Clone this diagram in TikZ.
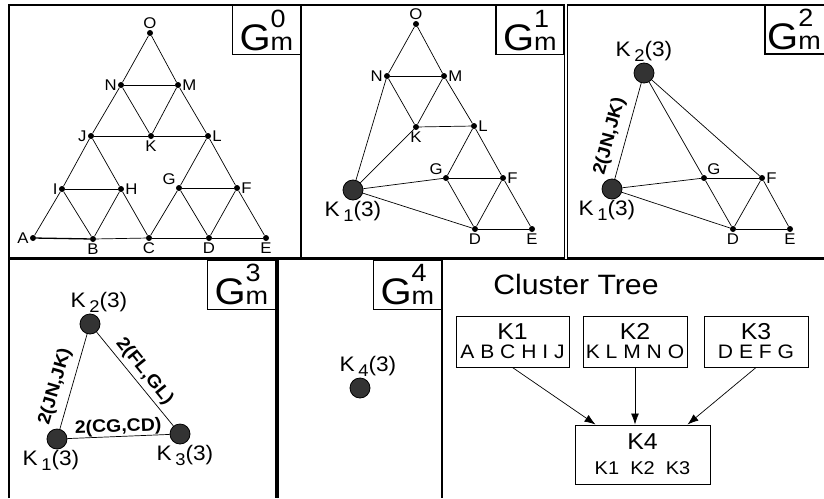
\documentclass[tikz,border=0pt]{standalone}
\usepackage{fontspec}
\setmainfont{Liberation Sans}[FakeStretch=1.08]
\usepackage{tikz}
\usetikzlibrary {arrows.meta}
\tikzset{
  dot/.style={circle, fill=black, inner sep=0pt, minimum size=6pt},
  cluster/.style={circle, draw=black, fill=black!80, line width=0.8pt, inner sep=0pt, minimum size=20pt},
  vlab/.style={font=\fontsize{15.5}{16}\selectfont, inner sep=1pt},
  klab/.style={font=\fontsize{21}{22}\selectfont, inner sep=1pt},
  elab/.style={font=\fontsize{18}{19}\selectfont\bfseries},
  levelbox/.style={draw, line width=1.2pt, minimum width=68pt, minimum height=49pt, inner sep=0pt},
  treebox/.style={draw, line width=1pt, align=center, inner sep=0pt, font=\fontsize{23}{19}\selectfont},
  edge/.style={line width=0.7pt},
  frame/.style={line width=1.4pt},
}
\newcommand{\glevel}[1]{{\fontsize{37}{37}\selectfont G}{\fontsize{25}{25}\selectfont\rlap{\raisebox{23pt}{#1}}m}}
\newcommand{\ksub}[1]{K\,\raisebox{-5pt}{\fontsize{17}{17}\selectfont #1}(3)}

\begin{document}
\begin{tikzpicture}[x=1pt, y=-1pt]
\useasboundingbox (0,0) rectangle (824,498);
\draw[frame] (9,5) rectangle (301,258);
\draw[frame] (301,5) rectangle (564.5,258);
\draw[frame] (824,5) -| (567.5,258) -- (824,258);
\draw[frame] (9,498) |- (276,259.5) -- (276,498);
\draw[frame] (278,498) |- (442,259.5) -- (442,498);
\draw[frame] (442,259.5) -- (824,259.5);

\node[levelbox, anchor=north east] (g0) at (301,5) {\glevel{0}};
\node[levelbox, anchor=north east] (g1) at (564.5,5) {\glevel{1}};
\draw[line width=1.2pt] (824,54) -| (765,5);
\node[anchor=base west, inner sep=0pt] (g2) at (767,49.5) {\glevel{2}};
\node[levelbox, anchor=north east] (g3) at (276,259.5) {\glevel{3}};
\node[levelbox, anchor=north east] (g4) at (442,259.5) {\glevel{4}};

\foreach \n/\x/\y/\p in {O/150/33/above, N/121/85/left, M/178/85/right, J/91/136/left, K/151/136/below, L/208/136/right, I/62/189/left, H/121/189/right, G/179/188/above left, F/237/188/right, A/33/238/left, B/93/239/below, C/149/238/below, D/209/238/below, E/266/238/below}
  \node[dot, label={[vlab]\p:\n}] (a\n) at (\x,\y) {};
\foreach \u/\v in {B/C, C/D, D/E, A/I, I/J, J/N, N/O, O/M, M/L, L/G, G/C, L/F, F/E, J/H, H/C, I/H, I/B, B/H, J/K, K/L, N/M, N/K, K/M, G/F, G/D, D/F}
  \draw[edge] (a\u) -- (a\v);
\draw[edge, line width=1.3pt] (aA) -- (aB);

\foreach \n/\x/\y/\p in {O/416/24/above, N/387/76/left, M/444/76/right, K/416/127/below, L/474/126/right, G/446/178/above left, F/503/178/right, D/475/229/below, E/532/229/below}
  \node[dot, label={[vlab]\p:\n}] (b\n) at (\x,\y) {};
\node[cluster, label={[klab]below:\ksub{1}}] (bK1) at (353,190) {};
\foreach \u/\v in {O/N, O/M, N/M, N/K, K/M, M/L, K/L, L/G, L/F, G/F, G/D, D/F, F/E, D/E, K1/N, K1/K, K1/G, K1/D}
  \draw[edge] (b\u) -- (b\v);

\foreach \n/\x/\y/\p in {G/704/178/above right, F/762/178/right, D/733/229/below, E/790/229/below}
  \node[dot, label={[vlab]\p:\n}] (c\n) at (\x,\y) {};
\node[cluster, label={[klab]above:\ksub{2}}] (cK2) at (644,73) {};
\node[cluster, label={[klab, xshift=-5pt]below:\ksub{1}}] (cK1) at (612,189) {};
\draw[edge] (cK1) -- node[elab, rotate=75, above=4pt, pos=0.4] {2(JN,JK)} (cK2);
\foreach \u/\v in {K2/G, K2/F, K1/G, K1/D, G/F, G/D, D/F, F/E, D/E}
  \draw[edge] (c\u) -- (c\v);

\node[cluster, label={[klab, xshift=9pt]above:\ksub{2}}] (dK2) at (90,324) {};
\node[cluster, label={[klab, xshift=-6pt]below:\ksub{1}}] (dK1) at (57,439) {};
\node[cluster, label={[klab, xshift=5pt]below:\ksub{3}}] (dK3) at (180,434) {};
\draw[edge] (dK1) -- node[elab, rotate=74, above=4pt, pos=0.4] {2(JN,JK)} (dK2);
\draw[edge] (dK2) -- node[elab, rotate=-51, above] {2(FL,GL)} (dK3);
\draw[edge] (dK1) -- node[elab, rotate=2, above, inner sep=0.5pt] {2(CG,CD)} (dK3);

\node[cluster, label={[klab, xshift=8pt]above:\ksub{4}}] (eK4) at (360,388) {};

\node[font=\fontsize{28}{28}\selectfont] (title) at (576,284) {Cluster Tree};
\node[treebox, minimum width=113pt, minimum height=51pt] (k1) at (512.5,341.5) {K1\\{\fontsize{19.5}{19}\selectfont A B C H I J}};
\node[treebox, minimum width=104pt, minimum height=51pt] (k2) at (635,341.5) {K2\\{\fontsize{19.5}{19}\selectfont K L M N O}};
\node[treebox, minimum width=104pt, minimum height=51pt] (k3) at (756,341.5) {K3\\{\fontsize{19.5}{19}\selectfont D E F G}};
\node[treebox, minimum width=135pt, minimum height=59pt] (k4) at (642.5,454.5) {K4\\[6pt]{\fontsize{18.5}{19}\selectfont K1~~K2~~K3}};
\draw[edge, -{Latex[length=11pt, width=8pt]}] (k1.south) -- ([xshift=-47pt]k4.north);
\draw[edge, -{Latex[length=11pt, width=8pt]}] (k2.south) -- (k2.south |- k4.north);
\draw[edge, -{Latex[length=11pt, width=8pt]}] (k3.south) -- ([xshift=45pt]k4.north);
\end{tikzpicture}
\end{document}
